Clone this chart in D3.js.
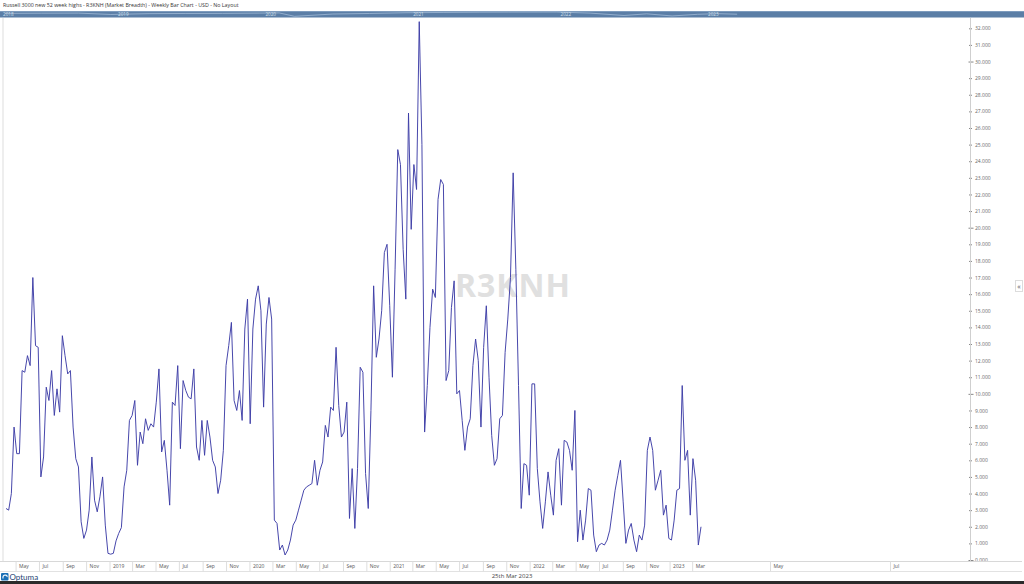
<!DOCTYPE html>
<html>
<head>
<meta charset="utf-8">
<script src="https://cdn.jsdelivr.net/npm/d3@7"></script>
<style>
  html, body { margin: 0; padding: 0; background: #fff; overflow: hidden; }
  svg { display: block; font-family: "Open Sans", sans-serif; }
</style>
</head>
<body>
<div id="chart"></div>
<script>
// ==== DATA ====
const TITLE = "Russell 3000 new 52 week highs - R3KNH (Market Breadth) - Weekly Bar Chart - USD - No Layout";
const SYMBOL = "R3KNH";
const DATE_LABEL = "25th Mar 2023";

// weekly closes, first bar on this date
const START_DATE = new Date(2018, 3, 6);
const VALUES = [
  3.1, 3.0, 4.0, 8.0, 6.4, 6.4, 11.4, 11.3, 12.3, 11.7,
  17.0, 12.9, 12.8, 5.0, 6.2, 10.4, 9.6, 11.4, 8.7, 10.3,
  8.9, 13.5, 12.3, 11.2, 11.4, 8.0, 6.1, 5.6, 2.3, 1.3,
  1.8, 3.0, 6.2, 3.6, 2.9, 3.8, 5.0, 2.1, 0.4, 0.35,
  0.4, 1.15, 1.6, 1.95, 4.4, 5.4, 8.4, 8.7, 9.6, 5.7,
  7.7, 7.0, 8.5, 7.8, 8.2, 8.0, 9.5, 11.5, 6.5, 7.2,
  5.4, 3.3, 9.5, 9.3, 11.7, 6.7, 10.8, 10.2, 9.8, 9.7,
  11.5, 6.8, 6.0, 8.4, 6.3, 8.4, 7.4, 6.0, 5.6, 4.0,
  4.8, 6.6, 11.7, 12.9, 14.3, 9.6, 9.0, 10.2, 8.4, 13.9,
  15.7, 8.2, 13.9, 15.7, 16.5, 15.0, 9.2, 14.2, 15.8, 14.5,
  2.4, 2.2, 0.6, 0.9, 0.3, 0.6, 1.2, 2.1, 2.4, 3.0,
  3.6, 4.2, 4.4, 4.5, 4.6, 6.0, 4.5, 5.4, 5.9, 8.1,
  7.4, 9.2, 9.0, 12.8, 9.3, 7.4, 7.7, 9.5, 2.5, 5.5,
  1.9, 5.5, 11.6, 11.3, 5.2, 3.1, 9.0, 16.5, 12.2, 13.3,
  15.0, 18.5, 19.0, 15.3, 11.0, 17.5, 24.7, 23.8, 18.7, 15.7,
  26.9, 19.9, 23.8, 22.3, 32.4, 25.0, 7.7, 10.5, 14.0, 16.3,
  15.8, 21.7, 22.9, 22.6, 10.8, 11.4, 15.2, 16.8, 10.0, 10.2,
  8.4, 6.6, 8.0, 8.5, 11.7, 13.3, 12.0, 8.0, 12.8, 15.3,
  11.0, 7.5, 5.7, 6.1, 8.5, 8.7, 12.5, 14.5, 17.0, 23.3,
  17.5, 10.5, 3.1, 5.8, 5.7, 3.9, 10.6, 10.6, 5.5, 3.5,
  1.9, 3.5, 5.3, 3.9, 2.7, 6.0, 6.7, 3.3, 7.2, 7.1,
  6.6, 5.4, 9.0, 1.1, 3.0, 1.2, 2.4, 4.3, 4.2, 1.5,
  0.5, 0.9, 1.0, 0.9, 1.2, 1.8, 3.0, 4.2, 5.1, 6.0,
  3.5, 1.0, 1.8, 2.2, 1.2, 0.5, 1.5, 1.2, 2.1, 6.6,
  7.4, 6.6, 4.2, 4.8, 5.4, 2.7, 3.3, 1.3, 1.2, 2.4,
  4.2, 4.3, 10.5, 6.0, 6.6, 2.7, 6.1, 4.8, 0.9, 2.0
];

// navigator strip (index line behind the year labels), rough levels
const NAV_DATES = [
  "2018-04-06", "2018-07-06", "2018-10-05", "2018-12-24", "2019-03-29", "2019-06-28",
  "2019-09-27", "2019-12-27", "2020-02-14", "2020-03-23", "2020-06-26", "2020-09-25",
  "2020-12-24", "2021-03-26", "2021-06-25", "2021-09-03", "2021-12-31", "2022-03-25",
  "2022-06-17", "2022-08-12", "2022-10-14", "2022-12-16", "2023-02-03", "2023-03-24"
];
const NAV_LEVELS = [
  3.5, 3.7, 3.8, 2.3, 3.2, 3.4, 3.5, 3.8, 4.0, 0.3, 2.8, 3.4,
  4.2, 4.5, 4.8, 4.9, 5.0, 3.8, 1.2, 3.0, 0.7, 2.5, 3.2, 2.6
];
const NAV_YEARS = ["2018", "2019", "2020", "2021", "2022", "2023"];

const Y_TICKS = d3.range(0, 33);
const MONTH_ABBR = ["Jan","Feb","Mar","Apr","May","Jun","Jul","Aug","Sep","Oct","Nov","Dec"];

// ==== SIZE ====
const width = 1024;
const height = 584;
const plotTop = 18;
const plotBottom = 561;
const axisX = 970.5;
const lineColor = "#3d3da6";

const dates = VALUES.map((v, i) => d3.timeDay.offset(START_DATE, 7 * i));
const series = VALUES.map((v, i) => ({ date: dates[i], value: v }));
const lastDate = dates[dates.length - 1];

// ==== SCALES ====
// bars are evenly spaced, the blank future area to the right is wider
const x = d3.scaleTime()
  .domain([START_DATE, lastDate, new Date(2023, 4, 1), new Date(2023, 6, 1)])
  .range([6, 701, 770, 890]);
const y = d3.scaleLinear().domain([0, 32]).range([560, 28.3]);

const nx = d3.scaleTime()
  .domain([new Date(2019, 0, 1), new Date(2023, 0, 1)])
  .range([114, 704]);
const ny = d3.scaleLinear().domain([0, 5]).range([16.6, 12]);

const xTicks = d3.timeMonth.every(2).range(new Date(2018, 4, 1), new Date(2023, 6, 2));

// ==== ROOT SVG ====
const svg = d3.select("#chart")
  .append("svg")
  .attr("width", width)
  .attr("height", height)
  .attr("viewBox", `0 0 ${width} ${height}`);

svg.append("rect").attr("width", width).attr("height", height).attr("fill", "#fff");

// Title
svg.append("text")
  .attr("x", 3)
  .attr("y", 7)
  .attr("font-size", 5.3)
  .attr("fill", "#333")
  .text(TITLE);

// Navigator strip
const nav = svg.append("g");
nav.append("rect")
  .attr("x", 0).attr("y", 11)
  .attr("width", width).attr("height", 6.5)
  .attr("fill", "#5b7ea6");
nav.append("rect")
  .attr("x", 0).attr("y", 11)
  .attr("width", width).attr("height", 0.8)
  .attr("fill", "#86a3c4");
nav.append("path")
  .datum(NAV_DATES.map((d, i) => ({ date: d3.timeParse("%Y-%m-%d")(d), level: NAV_LEVELS[i] })))
  .attr("fill", "none")
  .attr("stroke", "#a9c1dc")
  .attr("stroke-width", 0.7)
  .attr("d", d3.line().x(d => nx(d.date)).y(d => ny(d.level)));
nav.selectAll("text.ny")
  .data(NAV_YEARS)
  .join("text")
  .attr("class", "ny")
  .attr("x", d => Math.max(3, nx(new Date(+d, 0, 1)) + 4))
  .attr("y", 16)
  .attr("font-size", 4.6)
  .attr("fill", "#d5e0ec")
  .text(d => d);

// left border strip
svg.append("rect")
  .attr("x", 2).attr("y", plotTop)
  .attr("width", 2).attr("height", plotBottom - plotTop)
  .attr("fill", "#eeeeee");

// Watermark
svg.append("text")
  .attr("x", 513)
  .attr("y", 297)
  .attr("text-anchor", "middle")
  .attr("font-size", 32)
  .attr("font-weight", 700)
  .attr("letter-spacing", 1)
  .attr("fill", "#e0e0e0")
  .text(SYMBOL);

// ==== Y AXIS ====
const gy = svg.append("g")
  .attr("transform", `translate(${axisX},0)`)
  .call(d3.axisRight(y).tickValues(Y_TICKS).tickSize(2).tickFormat(d3.format(".3f")));
gy.select(".domain").remove();
gy.append("line")
  .attr("y1", plotTop).attr("y2", plotBottom)
  .attr("stroke", "#cfcfcf");
gy.selectAll(".tick line")
  .attr("x1", d => d % 10 === 0 ? -2 : -1.5)
  .attr("x2", d => d % 10 === 0 ? 3 : 1.5)
  .attr("stroke", "#888");
gy.selectAll(".tick text")
  .attr("x", 4.5)
  .attr("font-size", 5)
  .attr("font-family", "'Open Sans', sans-serif")
  .attr("fill", "#666");

// right panel button
svg.append("rect")
  .attr("x", 1015.5).attr("y", 280.5)
  .attr("width", 7).attr("height", 11)
  .attr("fill", "#fff").attr("stroke", "#dcdcdc");
svg.append("text")
  .attr("x", 1019).attr("y", 288.5)
  .attr("text-anchor", "middle")
  .attr("font-size", 7)
  .attr("fill", "#555")
  .text("«");

// ==== X AXIS BAND ====
svg.append("line")
  .attr("x1", 0).attr("x2", 1022)
  .attr("y1", plotBottom + 0.5).attr("y2", plotBottom + 0.5)
  .attr("stroke", "#d8d8d8");
svg.append("line")
  .attr("x1", 0).attr("x2", 1022)
  .attr("y1", 571.5).attr("y2", 571.5)
  .attr("stroke", "#e2e2e2");

const gx = svg.append("g")
  .attr("transform", `translate(0,${plotBottom + 0.5})`)
  .call(d3.axisBottom(x).tickValues(xTicks).tickSize(10)
    .tickFormat(d => d.getMonth() === 0 ? d3.timeFormat("%Y")(d) : MONTH_ABBR[d.getMonth()]));
gx.select(".domain").remove();
gx.selectAll(".tick line").attr("stroke", "#dedede");
gx.selectAll(".tick text")
  .attr("x", 3)
  .attr("y", 6.8)
  .attr("dy", null)
  .attr("text-anchor", "start")
  .attr("font-size", 5)
  .attr("font-family", "'Open Sans', sans-serif")
  .attr("fill", "#555");

// ==== LINE ====
const line = d3.line()
  .x(d => x(d.date))
  .y(d => y(d.value));

svg.append("path")
  .datum(series)
  .attr("fill", "none")
  .attr("stroke", lineColor)
  .attr("stroke-width", 0.95)
  .attr("stroke-linejoin", "round")
  .attr("d", line);

// ==== FOOTER ====
svg.append("text")
  .attr("x", 512)
  .attr("y", 578)
  .attr("text-anchor", "middle")
  .attr("font-size", 6)
  .attr("fill", "#444")
  .text(DATE_LABEL);

const logo = svg.append("g").attr("transform", "translate(1,573)");
logo.append("rect")
  .attr("width", 7.5).attr("height", 7.5).attr("rx", 1)
  .attr("fill", "#1a6fb5");
logo.append("path")
  .attr("d", "M2,5.5 Q1.5,2 4.5,2 Q6.5,2.2 6,4")
  .attr("fill", "none").attr("stroke", "#fff").attr("stroke-width", 1.1);
logo.append("text")
  .attr("x", 8.5).attr("y", 6.8)
  .attr("font-size", 8)
  .attr("font-family", "Lato, sans-serif")
  .attr("fill", "#1c3f73")
  .text("Optuma");

svg.append("rect")
  .attr("x", 0).attr("y", 581)
  .attr("width", width).attr("height", 3)
  .attr("fill", "#2b2b2b");
</script>
</body>
</html>
